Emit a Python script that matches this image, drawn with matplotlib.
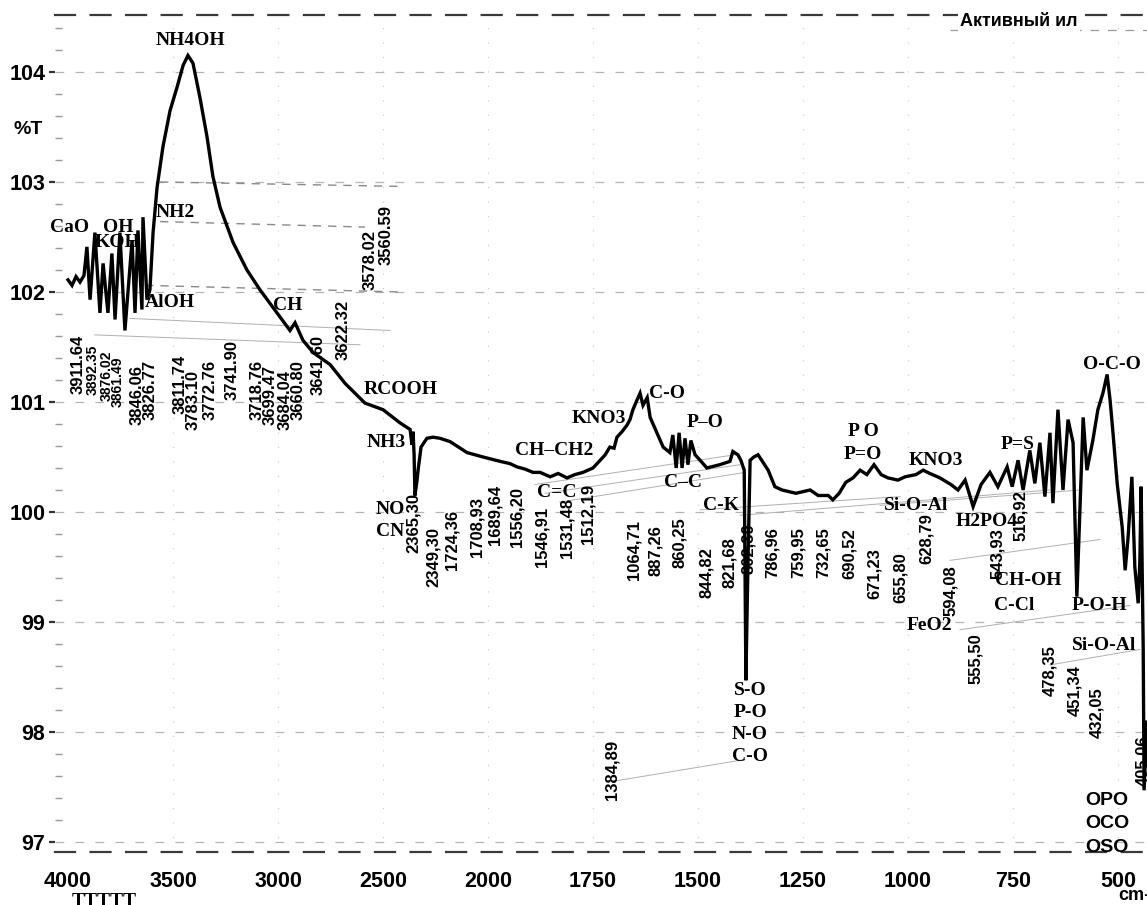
import numpy as np
import matplotlib
matplotlib.use('Agg')
from matplotlib import pyplot as plt

# IR spectrum of activated sludge, wavenumber (cm-1) vs transmittance (%T)
wavenumber = [4000, 3981, 3962, 3943, 3924, 3910, 3895, 3872, 3848, 3833, 3810, 3791, 3776,
              3753, 3729, 3695, 3681, 3667, 3648, 3643, 3624, 3610, 3595, 3576, 3548, 3514,
              3481, 3452, 3429, 3405, 3372, 3338, 3310, 3276, 3214, 3148, 3086, 3024, 2943,
              2919, 2881, 2833, 2752, 2681, 2586, 2500, 2419, 2371, 2362, 2357, 2352, 2348,
              2338, 2333, 2319, 2291, 2262, 2229, 2181, 2100, 2024,
              1971, 1948, 1931, 1912, 1893, 1876, 1852, 1833, 1812, 1793, 1774, 1750, 1733,
              1721, 1710, 1700, 1693, 1681, 1669, 1662, 1655, 1645, 1638, 1631, 1621, 1614,
              1598, 1583, 1567, 1560, 1552, 1545, 1538, 1531, 1524, 1517, 1507, 1495, 1479,
              1448, 1424, 1417, 1405, 1398, 1390, 1386, 1381, 1376, 1367, 1357, 1333, 1317,
              1300, 1267, 1233, 1214, 1190, 1179, 1164, 1148, 1131, 1114, 1098, 1081, 1064,
              1048, 1024, 1007, 981, 964, 948, 924, 898, 881, 864, 845, 826, 805, 786, 764,
              752, 738, 726, 710, 698, 686, 674, 662, 655, 643, 631, 619, 607, 598, 583, 574,
              560, 548, 536, 526, 519, 512, 502, 490, 483, 476, 467, 460, 452, 448, 445, 440,
              438, 431]
transmittance = [102.11, 102.06, 102.14, 102.09, 102.15, 102.41, 101.93, 102.54, 101.81, 102.26,
                 101.81, 102.35, 101.75, 102.54, 101.65, 102.47, 101.81, 102.56, 101.84, 102.68,
                 101.93, 102.02, 102.54, 102.95, 103.32, 103.65, 103.86, 104.06, 104.15, 104.08,
                 103.77, 103.41, 103.05, 102.77, 102.45, 102.20, 102.02, 101.86, 101.65, 101.72,
                 101.56, 101.45, 101.34, 101.17, 100.99, 100.93, 100.81, 100.75, 100.61, 100.73,
                 100.52, 100.15, 100.29, 100.38, 100.59, 100.67, 100.68, 100.67, 100.64, 100.54,
                 100.50,
                 100.46, 100.44, 100.41, 100.39, 100.36, 100.36, 100.32, 100.35, 100.31, 100.34,
                 100.36, 100.40, 100.47, 100.52, 100.59, 100.58, 100.68, 100.73, 100.79, 100.84,
                 100.93, 101.02, 101.08, 100.97, 101.04, 100.86, 100.72, 100.59, 100.54, 100.70,
                 100.40, 100.72, 100.40, 100.67, 100.43, 100.65, 100.52, 100.47, 100.40, 100.43,
                 100.46, 100.55, 100.52, 100.47, 100.38, 98.47, 99.56, 100.47, 100.50, 100.52,
                 100.38, 100.23, 100.20, 100.17, 100.20, 100.15, 100.15, 100.11, 100.17, 100.27,
                 100.31, 100.38, 100.34, 100.43, 100.34, 100.31, 100.29, 100.32, 100.34, 100.38,
                 100.35, 100.31, 100.25, 100.20, 100.29, 100.05, 100.25, 100.36, 100.23, 100.41,
                 100.23, 100.47, 100.20, 100.56, 100.26, 100.63, 100.14, 100.72, 100.08, 100.93,
                 100.20, 100.84, 100.63, 99.23, 100.86, 100.38, 100.65, 100.93, 101.08, 101.25,
                 101.02, 100.72, 100.26, 99.86, 99.47, 99.77, 100.32, 99.50, 99.17, 99.56,
                 100.23, 98.75, 97.47, 98.09]

# band assignments and peak readouts
groups = ['NH4OH', 'NH2', 'CaO', 'OH', 'KOH', 'AlOH', 'CH', 'RCOOH', 'NH3', 'NO', 'CN',
          'CH\u2013CH2', 'KNO3', 'C=C', 'C-O', 'P\u2013O', 'C\u2013C', 'C-K', 'P O', 'P=O',
          'KNO3', 'Si-O-Al', 'H2PO4', 'P=S', 'FeO2', 'CH-OH', 'C-Cl']
group_pos = [(3419, 104.29), (3491, 102.72), (3995, 102.59), (3762, 102.59), (3762, 102.45),
             (3514, 101.90), (2953, 101.88), (2414, 101.11), (2486, 100.63), (2467, 100.02),
             (2467, 99.82), (1843, 100.56), (1736, 100.85), (1836, 100.18), (1574, 101.08),
             (1483, 100.81), (1536, 100.27), (1445, 100.06), (1107, 100.73), (1107, 100.52),
             (934, 100.47), (981, 100.06), (812, 99.91), (738, 100.61), (948, 98.97),
             (714, 99.38), (748, 99.15)]
edge_groups = ['P-O-H', 'Si-O-Al']
edge_pos = [(610, 99.15), (610, 98.79)]
stack_groups = ['S-O', 'P-O', 'N-O', 'C-O']
stack_pos = [(1376, 98.38), (1376, 98.18), (1376, 97.98), (1376, 97.78)]
ring_groups = ['OPO', 'OCO', 'OSO']
ring_pos = [(579, 97.38), (579, 97.17), (579, 96.95)]

peaks = ['3911.64', '3892.35', '3876.02', '3861.49', '3846.06', '3826.77', '3811.74',
         '3783.10', '3772.76', '3741.90', '3718.76', '3699.47', '3684.04', '3660.80',
         '3641.60', '3622.32', '3578.02', '3560.59',
         '2365,30', '2349,30', '1724,36', '1708,93', '1689,64', '1556,20', '1546,91',
         '1531,48', '1512,19', '1064,71', '887,26', '860,25', '844,82', '821,68', '802,39',
         '786,96', '759,95', '732,65', '690,52', '671,23', '655,80', '628,79', '594,08',
         '555,50', '543,93', '516,92', '478,35', '451,34', '432,05', '405,06', '1384,89']
peak_pos = [(3952, 101.61), (3881, 101.52), (3814, 101.47), (3762, 101.41), (3671, 101.34),
            (3610, 101.38), (3467, 101.43), (3405, 101.29), (3324, 101.38), (3219, 101.56),
            (3100, 101.38), (3038, 101.34), (2967, 101.29), (2905, 101.38), (2810, 101.61),
            (2691, 101.93), (2562, 102.56), (2486, 102.79),
            (2357, 100.17), (2262, 99.86), (2172, 100.02), (2052, 100.14), (1983, 100.25),
            (1931, 100.23), (1871, 100.05), (1812, 100.13), (1762, 100.26), (1652, 99.93),
            (1602, 99.88), (1545, 99.95), (1481, 99.68), (1424, 99.77), (1379, 99.90),
            (1324, 99.86), (1262, 99.86), (1202, 99.86), (1140, 99.85), (1081, 99.67),
            (1019, 99.63), (957, 99.99), (898, 99.52), (840, 98.90), (786, 99.85),
            (733, 100.20), (662, 98.79), (602, 98.61), (550, 98.41), (440, 97.97),
            (1705, 97.93)]
small_peaks = {'3892.35', '3876.02', '3861.49'}

# leader lines from bands to their readouts
leaders_dark = [((3562, 2419), (103.00, 102.96)), ((3562, 2586), (102.64, 102.59)),
                ((3633, 2419), (102.06, 102.00))]
leaders_faint = [((3705, 2467), (101.76, 101.65)), ((3872, 2610), (101.61, 101.52)),
                 ((1888, 1412), (100.25, 100.52)), ((1864, 1400), (100.17, 100.43)),
                 ((1829, 1388), (100.09, 100.36)), ((1495, 1019), (100.02, 100.14)),
                 ((1400, 662), (99.97, 100.20)), ((1067, 590), (100.06, 100.20)),
                 ((900, 543), (99.56, 99.75)), ((876, 471), (98.93, 99.15)),
                 ((662, 448), (98.61, 98.75)), ((1705, 1388), (97.55, 97.75))]

x_ticks = [4000, 3500, 3000, 2500, 2000, 1750, 1500, 1250, 1000, 750, 500]
y_ticks = [97, 98, 99, 100, 101, 102, 103, 104]

SANS = 'Liberation Sans'
SERIF = 'Liberation Serif'


def fwd(w):
    w = np.asarray(w, dtype=float)
    return np.where(w >= 2000, w, 2 * w - 2000)


def inv(p):
    p = np.asarray(p, dtype=float)
    return np.where(p >= 2000, p, (p + 2000) / 2)


fig = plt.figure(figsize=(11.47, 9.05), dpi=100)
ax = fig.add_axes([55 / 1147, 1 - 852 / 905, 1 - 55 / 1147, (852 - 15) / 905])
ax.set_xscale('function', functions=(fwd, inv))

# scanned-chart grid
for t in y_ticks:
    ax.axhline(t, color='#b4b4b4', lw=0.9, ls=(0, (7, 9)), zorder=0)
for w in x_ticks[1:]:
    ax.axvline(w, color='#c8c8c8', lw=0.8, ls=(0, (1, 12)), zorder=0)
ax.axhline(104.38, xmin=0.82, xmax=1.0, color='#9a9a9a', lw=0.9, ls=(0, (7, 7)), zorder=0)

for xs, ys in leaders_dark:
    ax.plot(xs, ys, color='#8a8a8a', lw=1.0, ls=(0, (6, 5)), zorder=1)
for xs, ys in leaders_faint:
    ax.plot(xs, ys, color='#b0b0b0', lw=0.7, zorder=1)

ax.plot(wavenumber, transmittance, color='black', lw=2.4, solid_joinstyle='miter', zorder=3)

for s in ['left', 'right']:
    ax.spines[s].set_visible(False)
for s in ['top', 'bottom']:
    ax.spines[s].set_linestyle((0, (9, 7)))
    ax.spines[s].set_color('#3a3a3a')
    ax.spines[s].set_linewidth(1.6)

ax.set_xticks(x_ticks)
ax.set_xticklabels([str(v) for v in x_ticks])
ax.set_yticks(y_ticks)
ax.set_yticklabels([str(v) for v in y_ticks])
ax.set_yticks(np.arange(97.0, 104.5, 0.2), minor=True)
ax.set_xticks([], minor=True)
ax.set_xlim(4062, 431)
ax.set_ylim(96.909, 104.518)
ax.tick_params(axis='x', length=0, pad=14)
ax.tick_params(axis='y', which='major', direction='out', length=4, width=1.6,
               color='#333333', pad=3)
ax.tick_params(axis='y', which='minor', direction='in', length=5, width=1.0,
               color='#9a9a9a')
for lab in ax.get_xticklabels() + ax.get_yticklabels():
    lab.set_fontfamily(SANS)
    lab.set_fontweight('bold')
    lab.set_fontsize(15.5)

for txt, (w, t) in zip(groups, group_pos):
    ax.text(w, t, txt, family=SERIF, weight='bold', fontsize=14, ha='center',
            va='center', zorder=4)
for txt, (w, t) in zip(edge_groups, edge_pos):
    ax.text(w, t, txt, family=SERIF, weight='bold', fontsize=14, ha='left',
            va='center', zorder=4, clip_on=False)
for txt, (w, t) in zip(stack_groups, stack_pos):
    ax.text(w, t, txt, family=SERIF, weight='bold', fontsize=14, ha='center',
            va='center', zorder=4)
for txt, (w, t) in zip(ring_groups, ring_pos):
    ax.text(w, t, txt, family=SANS, weight='bold', fontsize=14, ha='left',
            va='center', zorder=4, clip_on=False)
ax.text(514, 101.34, 'O-C-O', family=SERIF, weight='bold', fontsize=14, ha='center',
        va='center', zorder=4)

for txt, (w, t) in zip(peaks, peak_pos):
    ax.text(w, t, txt, family=SANS, weight='bold',
            fontsize=10 if txt in small_peaks else 12,
            rotation=90, ha='center', va='top', zorder=4)

fig.text(1019 / 1147, 1 - 22 / 905, 'Активный ил', family=SANS, weight='bold',
         fontsize=13, ha='center', va='center',
         bbox=dict(facecolor='white', edgecolor='none', pad=1.5))
fig.text(28 / 1147, 1 - 130 / 905, '%T', family=SANS, weight='bold', fontsize=14,
         ha='center', va='center')
fig.text(1118 / 1147, 1 - 895 / 905, 'cm-', family=SANS, weight='bold', fontsize=13,
         ha='left', va='center')
fig.text(72 / 1147, 1 - 893 / 905, 'TTTTT', family=SERIF, weight='bold', fontsize=14,
         ha='left', va='top')

fig.savefig('out.png', dpi=100)
